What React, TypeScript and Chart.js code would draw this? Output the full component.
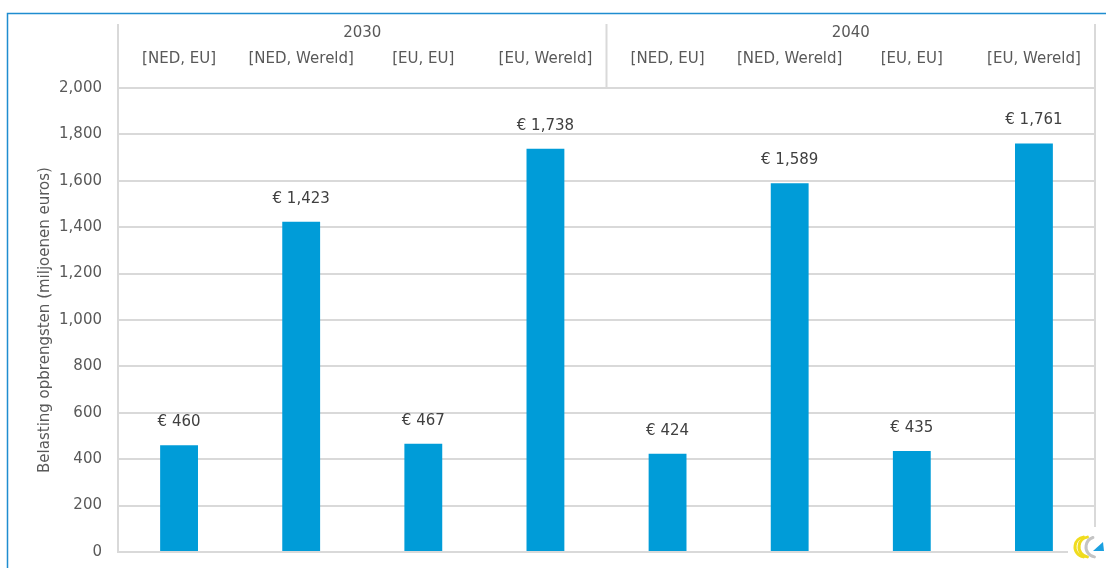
import React, { useEffect, useRef } from 'react';
import { Chart, registerables } from 'chart.js';

Chart.register(...registerables);

const categories = ['[NED, EU]', '[NED, Wereld]', '[EU, EU]', '[EU, Wereld]', '[NED, EU]', '[NED, Wereld]', '[EU, EU]', '[EU, Wereld]'];
const groups = ['2030', '2040'];
const groupSize = 4;
const values = [460, 1423, 467, 1738, 424, 1589, 435, 1761];
const yMin = 0;
const yMax = 2000;
const yStep = 200;
const yTitle = 'Belasting opbrengsten (miljoenen euros)';

const FONT = '"DejaVu Sans", sans-serif';
const TEXT = '#595959';
const GRID = '#d9d9d9';
const BAR = '#009cd8';
const FRAME = '#1f8dd0';

const fmt = (v: number) => v.toLocaleString('en-US');

const overlay = {
  id: 'overlay',
  afterDraw(chart: any) {
    const { ctx, chartArea } = chart;
    const x = chart.scales.x;
    const y = chart.scales.y;
    const left = chartArea.left;
    const right = chartArea.right;
    const top = chartArea.top;
    const bottom = chartArea.bottom;
    const headTop = 24;
    ctx.save();
    // header / axis lines
    ctx.strokeStyle = GRID;
    ctx.lineWidth = 2;
    ctx.beginPath();
    ctx.moveTo(left, headTop);
    ctx.lineTo(left, bottom + 1);
    const sepX = (x.getPixelForValue(groupSize - 1) + x.getPixelForValue(groupSize)) / 2;
    ctx.moveTo(sepX, headTop);
    ctx.lineTo(sepX, top);
    ctx.moveTo(right, headTop);
    ctx.lineTo(right, bottom);
    ctx.stroke();
    // group labels
    ctx.fillStyle = TEXT;
    ctx.font = '15px ' + FONT;
    ctx.textAlign = 'center';
    ctx.textBaseline = 'middle';
    groups.forEach((g, i) => {
      const a = x.getPixelForValue(i * groupSize);
      const b = x.getPixelForValue(i * groupSize + groupSize - 1);
      ctx.fillText(g, (a + b) / 2, 33);
    });
    // data labels
    ctx.fillStyle = '#404040';
    values.forEach((v, i) => {
      ctx.fillText('€ ' + fmt(v), x.getPixelForValue(i), y.getPixelForValue(v) - 23);
    });
    // logo area
    ctx.fillStyle = '#ffffff';
    ctx.fillRect(1068, 527, 38, 41);
    ctx.lineCap = 'round';
    ctx.strokeStyle = '#f0dc1e';
    ctx.lineWidth = 3;
    ctx.beginPath();
    ctx.arc(1085, 547, 10, Math.PI * 0.55, Math.PI * 1.45);
    ctx.stroke();
    ctx.beginPath();
    ctx.arc(1089, 547, 10, Math.PI * 0.55, Math.PI * 1.45);
    ctx.stroke();
    ctx.strokeStyle = '#c4c4c4';
    ctx.lineWidth = 3;
    ctx.beginPath();
    ctx.arc(1096, 547, 10, Math.PI * 0.55, Math.PI * 1.4);
    ctx.stroke();
    ctx.fillStyle = '#1aa0e0';
    ctx.beginPath();
    ctx.moveTo(1093, 551);
    ctx.lineTo(1103, 542);
    ctx.lineTo(1104, 551);
    ctx.closePath();
    ctx.fill();
    // frame
    ctx.strokeStyle = FRAME;
    ctx.lineWidth = 1.5;
    ctx.beginPath();
    ctx.moveTo(7.5, 568);
    ctx.lineTo(7.5, 13.5);
    ctx.lineTo(1106, 13.5);
    ctx.stroke();
    ctx.restore();
  },
};

export default function App() {
  const ref = useRef<HTMLCanvasElement | null>(null);
  useEffect(() => {
    if (!ref.current) return;
    const chart = new Chart(ref.current, {
      type: 'bar',
      data: {
        labels: categories,
        datasets: [
          {
            data: values,
            backgroundColor: BAR,
            categoryPercentage: 1,
            barPercentage: 0.31,
          },
        ],
      },
      options: {
        animation: false,
        responsive: true,
        maintainAspectRatio: false,
        layout: { padding: { left: 0, right: 11, top: 24, bottom: 16 } },
        plugins: { legend: { display: false }, tooltip: { enabled: false } },
        scales: {
          x: {
            position: 'top',
            grid: { display: false },
            border: { display: false },
            ticks: { color: TEXT, font: { family: FONT, size: 15 }, padding: 12, maxRotation: 0, autoSkip: false },
            afterFit: (s: any) => {
              s.height = 64;
              s.paddingLeft = 0;
              s.paddingRight = 0;
            },
          },
          y: {
            min: yMin,
            max: yMax,
            grid: { color: GRID, lineWidth: 2, drawTicks: false },
            border: { display: false },
            ticks: {
              stepSize: yStep,
              color: TEXT,
              font: { family: FONT, size: 15 },
              padding: 16,
              callback: (v: any) => fmt(Number(v)),
            },
            title: {
              display: true,
              text: yTitle,
              color: TEXT,
              font: { family: FONT, size: 15 },
              padding: { top: 36, bottom: 0 },
            },
            afterFit: (s: any) => {
              s.width = 118;
              s.paddingTop = 0;
              s.paddingBottom = 0;
            },
          },
        },
      },
      plugins: [overlay],
    });
    return () => chart.destroy();
  }, []);
  return (
    <div style={{ position: 'fixed', left: 0, top: 0, width: 1106, height: 568, background: '#fff' }}>
      <canvas ref={ref} />
    </div>
  );
}
